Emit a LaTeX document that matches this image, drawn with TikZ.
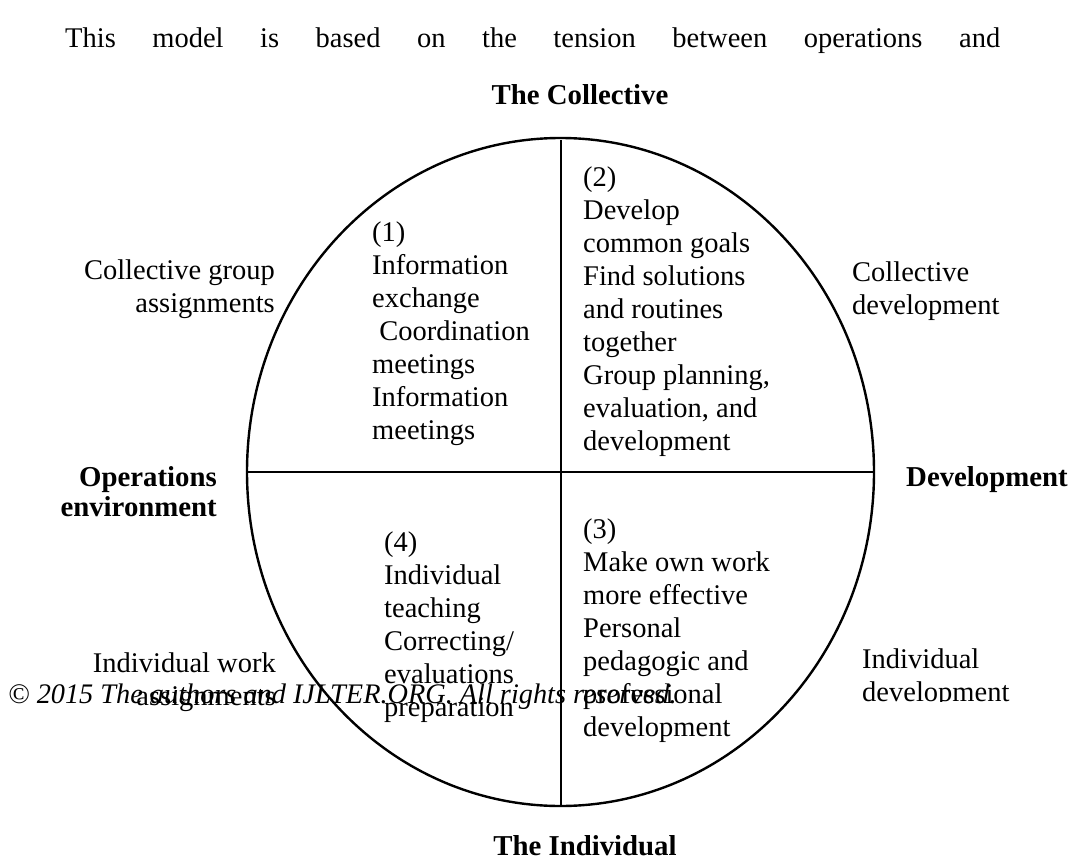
\documentclass[tikz,border=0pt]{standalone}
\usepackage{fontspec}
\setmainfont{Liberation Serif}
\usetikzlibrary{shapes.geometric}
\newcommand{\mystack}[2][l]{\begin{tabular}[t]{@{}#1@{}}#2\end{tabular}}
\tikzset{
  body/.style={inner sep=0pt, font=\fontsize{28.5}{33}\selectfont},
  head/.style={body, font=\fontsize{28.8}{30}\selectfont\bfseries},
  wmark/.style={body, font=\fontsize{28.3}{33}\selectfont\itshape},
}
\begin{document}
\begin{tikzpicture}[x=1pt,y=-1pt]
\useasboundingbox (0,0) rectangle (1075,861);
% title line
\node[body, anchor=base west] (intro) at (65,48)
  {\makebox[935pt][s]{This\hfill model\hfill is\hfill based\hfill on\hfill the\hfill tension\hfill between\hfill operations\hfill and}};
% circle
\node[draw, line width=2.4pt, ellipse, minimum width=627pt, minimum height=668pt, inner sep=0pt] (circ) at (560.5,472) {};
\coordinate (top) at (561,140);
\coordinate (bot) at (561,806);
\draw[line width=1.2pt] (top) -- (bot);
\draw[line width=1.4pt] (circ.west) -- (circ.east);
% axis labels
\node[head, anchor=base] (coll) at (580,105) {The Collective};
\node[head, anchor=base] (indiv) at (585,855) {The Individual};
\node[head, anchor=base east] (ops) at (217,486) {\mystack[r]{Operations\\environment}};
\node[head, anchor=base west] (dev) at (906,486) {Development};
% outer labels
\node[body, anchor=base east] (cga) at (275,279) {\mystack[r]{Collective group\\assignments}};
\node[body, anchor=base west] (cd) at (852,281) {\mystack{Collective\\development}};
\node[body, anchor=base east] (iwa) at (276,672) {\mystack[r]{Individual work\\assignments}};
\begin{scope}
\clip (840,630) rectangle (1075,701);
\node[body, anchor=base west] (idev) at (862,668) {\mystack{Individual\\development}};
\end{scope}
% quadrants
\node[body, anchor=base west] (q1) at (372,241) {\mystack{(1)\\Information\\exchange\\\ Coordination\\meetings\\Information\\meetings}};
\node[body, anchor=base west] (q2) at (583,186) {\mystack{(2)\\Develop\\common goals\\Find solutions\\and routines\\together\\Group planning,\\evaluation, and\\development}};
\node[body, anchor=base west] (q3) at (583,538) {\mystack{(3)\\Make own work\\more effective\\Personal\\pedagogic and\\professional\\development}};
\node[body, anchor=base west] (q4) at (384,551) {\mystack{(4)\\Individual\\teaching\\Correcting/\\evaluations\\preparation}};
% watermark
\node[wmark, anchor=base west] (wm) at (8,703) {\textcopyright{} 2015 The authors and IJLTER.ORG. All rights reserved.};
\end{tikzpicture}
\end{document}
